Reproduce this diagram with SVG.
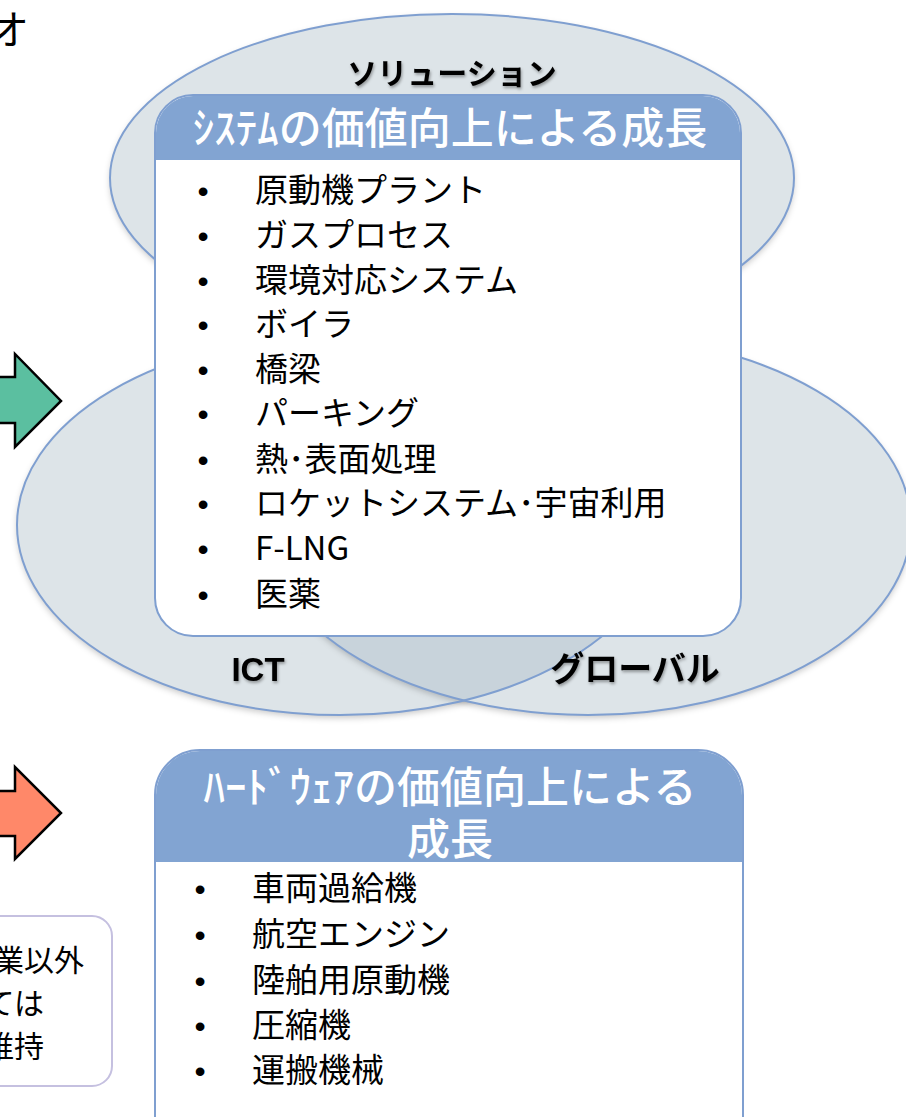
<svg xmlns="http://www.w3.org/2000/svg" width="906" height="1117" viewBox="0 0 906 1117">
<defs>
<filter id="sh" x="-10%" y="-10%" width="120%" height="125%">
<feDropShadow dx="0" dy="3" stdDeviation="3" flood-color="#000" flood-opacity="0.22"/>
</filter>
<filter id="tsh" x="-10%" y="-20%" width="120%" height="150%">
<feDropShadow dx="1" dy="2" stdDeviation="1.5" flood-color="#000" flood-opacity="0.35"/>
</filter>
<clipPath id="clipLeft">
<ellipse cx="340" cy="525" rx="323" ry="190"/>
</clipPath>
</defs>
<style>
.fill{fill:#dde4e8}
.line{fill:none;stroke:#7f9fd0;stroke-width:2}
.box{fill:#fff;stroke:#7f9fd0;stroke-width:2}
.hdr{fill:#82a4d2}
.ht{font-family:"Noto Sans CJK JP","Noto Sans",sans-serif;font-size:43px;font-weight:500;fill:#fff;text-anchor:middle}
.it{font-family:"Noto Sans CJK JP","Noto Sans",sans-serif;font-size:33px;fill:#000}
.nt{font-family:"Noto Sans CJK JP","Noto Sans",sans-serif;font-size:30px;fill:#000;text-anchor:end}
.bu{font-family:"Liberation Sans",sans-serif;font-size:32px;fill:#000;text-anchor:middle}
.lab{font-family:"Noto Sans CJK JP",sans-serif;font-weight:bold;fill:#000;text-anchor:middle}
.arr{stroke:#000;stroke-width:2.5;stroke-linejoin:miter}
</style>
<g id="title-fragment">
<text x="29" y="44" font-family="Noto Sans CJK JP,sans-serif" font-size="40" text-anchor="end" fill="#000">オ</text>
</g>
<g id="ellipse-solution">
<ellipse class="fill" cx="452" cy="178" rx="342" ry="164" filter="url(#sh)"/>
<ellipse class="line" cx="452" cy="178" rx="342" ry="164"/>
</g>
<g id="ellipse-ict">
<ellipse class="fill" cx="340" cy="525" rx="323" ry="190" filter="url(#sh)"/>
</g>
<g id="ellipse-global">
<ellipse class="fill" cx="588" cy="525" rx="323" ry="190" filter="url(#sh)"/>
<ellipse cx="588" cy="525" rx="323" ry="190" fill="#c8d3db" clip-path="url(#clipLeft)"/>
<ellipse class="line" cx="588" cy="525" rx="323" ry="190"/>
<ellipse class="line" cx="340" cy="525" rx="323" ry="190"/>
</g>
<g id="label-solution">
<text class="lab" x="452" y="84" font-size="30" filter="url(#tsh)">ソリューション</text>
</g>
<g id="label-ict">
<text x="258" y="681" font-family="Liberation Sans,sans-serif" font-weight="bold" font-size="33" text-anchor="middle" filter="url(#tsh)">ICT</text>
</g>
<g id="label-global">
<text class="lab" x="635" y="681" font-size="34" filter="url(#tsh)">グローバル</text>
</g>
<g id="arrow-green">
<path class="arr" fill="#5bbfa0" d="M-10,377 L15,377 L15,354 L61,401 L15,447 L15,423 L-10,423 Z"/>
</g>
<g id="arrow-orange">
<path class="arr" fill="#ff8869" d="M-10,791 L15,791 L15,767 L61,813 L15,859 L15,836 L-10,836 Z"/>
</g>
<g id="box-system">
<rect class="box" x="155" y="95" width="586" height="541" rx="38"/>
<path class="hdr" d="M156,160 L156,133 A37,37 0 0 1 193,96 L703,96 A37,37 0 0 1 740,133 L740,160 Z"/>
<text class="ht" x="450" y="144">ｼｽﾃﾑの価値向上による成長</text>
<g>
<text class="bu" x="203" y="202">•</text><text class="it" x="255" y="202">原動機プラント</text>
<text class="bu" x="203" y="247">•</text><text class="it" x="255" y="247">ガスプロセス</text>
<text class="bu" x="203" y="292">•</text><text class="it" x="255" y="292">環境対応システム</text>
<text class="bu" x="203" y="336">•</text><text class="it" x="255" y="336">ボイラ</text>
<text class="bu" x="203" y="381">•</text><text class="it" x="255" y="381">橋梁</text>
<text class="bu" x="203" y="425">•</text><text class="it" x="255" y="425">パーキング</text>
<text class="bu" x="203" y="471">•</text><text class="it" x="255" y="471">熱･表面処理</text>
<text class="bu" x="203" y="515">•</text><text class="it" x="255" y="515">ロケットシステム･宇宙利用</text>
<text class="bu" x="203" y="560">•</text><text class="it" x="255" y="560">F-LNG</text>
<text class="bu" x="203" y="606">•</text><text class="it" x="255" y="606">医薬</text>
</g>
</g>
<g id="box-hardware">
<rect class="box" x="155" y="750" width="588" height="420" rx="45"/>
<path class="hdr" d="M156,862 L156,795 A44,44 0 0 1 200,751 L698,751 A44,44 0 0 1 742,795 L742,862 Z"/>
<text class="ht" x="450" y="803">ﾊｰﾄﾞｳｪｱの価値向上による</text>
<text class="ht" x="450" y="855">成長</text>
<g>
<text class="bu" x="200" y="900">•</text><text class="it" x="252" y="900">車両過給機</text>
<text class="bu" x="200" y="946">•</text><text class="it" x="252" y="946">航空エンジン</text>
<text class="bu" x="200" y="992">•</text><text class="it" x="252" y="992">陸舶用原動機</text>
<text class="bu" x="200" y="1037">•</text><text class="it" x="252" y="1037">圧縮機</text>
<text class="bu" x="200" y="1082">•</text><text class="it" x="252" y="1082">運搬機械</text>
</g>
</g>
<g id="note-box">
<rect x="-30" y="916" width="142" height="170" rx="20" fill="#fff" stroke="#c5c0e0" stroke-width="2"/>
<text class="nt" x="84" y="971">事業以外</text>
<text class="nt" x="44" y="1014">については</text>
<text class="nt" x="44" y="1057">維持</text>
</g>
<g id="connectors"></g>
</svg>
